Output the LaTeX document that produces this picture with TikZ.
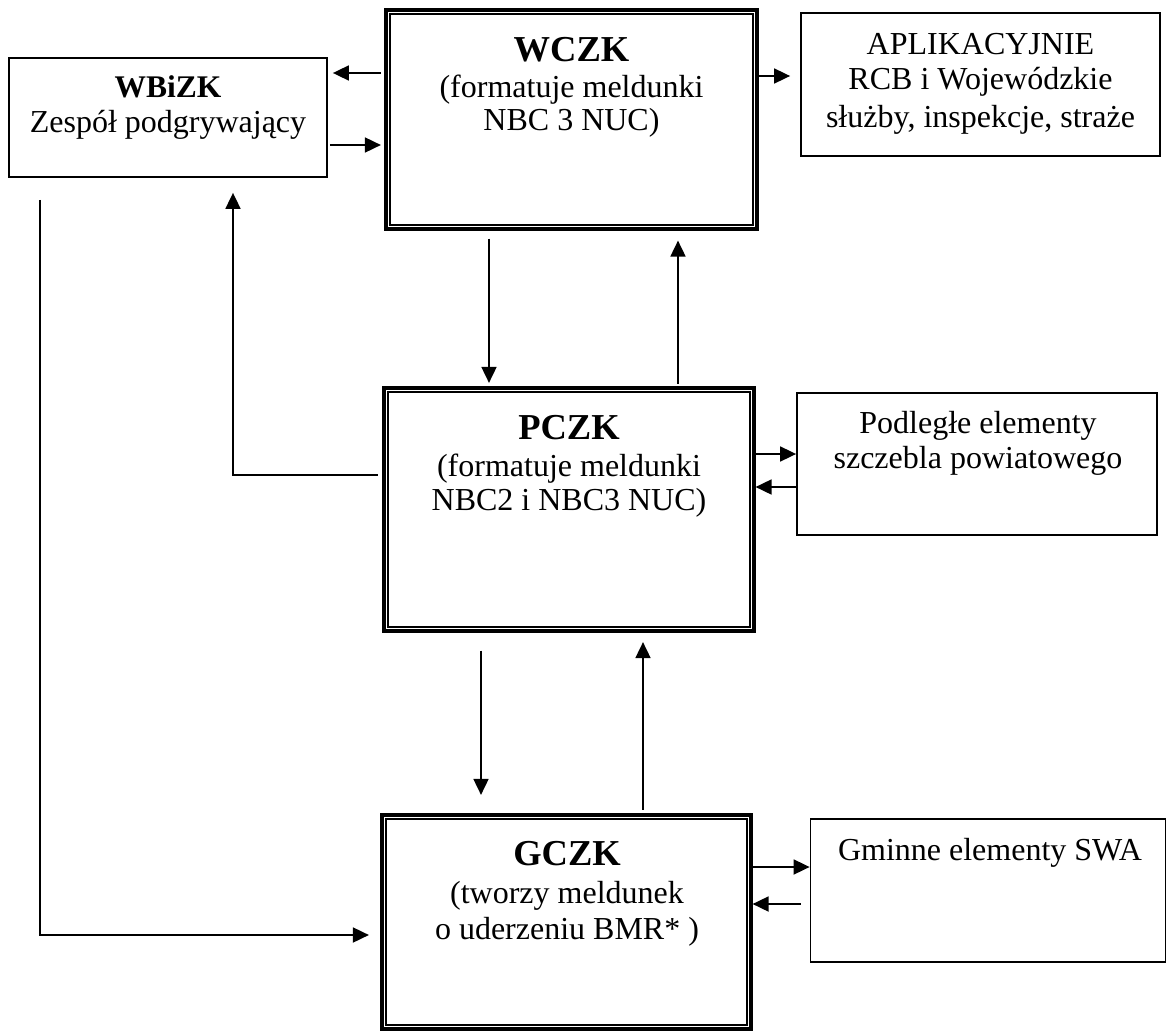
\documentclass[tikz,border=0pt]{standalone}
\usepackage{fontspec}
\setmainfont{Liberation Serif}
\usetikzlibrary{arrows.meta}
\begin{document}
\begin{tikzpicture}[x=1pt,y=-1pt,
  sbox/.style={draw, line width=1.8pt, inner sep=0pt},
  dbox/.style={draw, line width=3.2pt, inner sep=0pt},
  tx/.style={anchor=base, inner sep=0pt, font=\fontsize{32}{35}\selectfont},
  ttl/.style={anchor=base, inner sep=0pt, font=\fontsize{36.5}{40}\selectfont\bfseries},
  arr/.style={line width=1.8pt, -{Triangle[length=16pt,width=15pt]}}]
\useasboundingbox (0,0) rectangle (1168,1033);

% boxes
\node[sbox, minimum width=318pt, minimum height=119pt] (wbizk) at (168,117.5) {};
\node[dbox, minimum width=371pt, minimum height=219pt] (wczk) at (571.5,119.5) {};
\node[sbox, minimum width=359pt, minimum height=143pt] (aplik) at (980.5,84.5) {};
\node[dbox, minimum width=370pt, minimum height=243pt] (pczk) at (569,509.5) {};
\node[sbox, minimum width=360pt, minimum height=142pt] (podl) at (977,464) {};
\node[dbox, minimum width=369pt, minimum height=214pt] (gczk) at (566.5,922) {};
\node[sbox, minimum width=355pt, minimum height=143pt] (gmin) at (988,890.5) {};

% inner lines of double boxes
\foreach \b in {wczk,pczk,gczk}{
  \draw[line width=1.5pt] ([shift={(5.8,5.8)}]\b.north west) rectangle ([shift={(-5.8,-5.8)}]\b.south east);
}

% texts
\node[anchor=base, inner sep=0pt, font=\fontsize{31.5}{35}\selectfont\bfseries] (wbizkA) at (168,97) {WBiZK};
\node[tx] (wbizkB) at (168,132) {Zespół podgrywający};

\node[ttl] (wczkA) at (571.5,62) {WCZK};
\node[tx] (wczkB) at (571.5,97) {(formatuje meldunki};
\node[tx] (wczkC) at (571.5,130) {NBC 3 NUC)};

\node[tx] (aplikA) at (980.5,55) {APLIKACYJNIE};
\node[tx] (aplikB) at (980.5,90) {RCB i Wojewódzkie};
\node[tx] (aplikC) at (980.5,127) {służby, inspekcje, straże};

\node[ttl] (pczkA) at (569,439) {PCZK};
\node[tx] (pczkB) at (569,476) {(formatuje meldunki};
\node[tx] (pczkC) at (569,510) {NBC2 i NBC3 NUC)};

\node[tx] (podlA) at (978,433) {Podległe elementy};
\node[tx] (podlB) at (978,468) {szczebla powiatowego};

\node[ttl] (gczkA) at (567,865) {GCZK};
\node[tx] (gczkB) at (567,903) {(tworzy meldunek};
\node[tx] (gczkC) at (567,939) {o uderzeniu BMR* )};

\node[tx] (gminA) at (990,860) {Gminne elementy SWA};

% helper coordinates (levels / columns)
\coordinate (k73) at (0,73);
\coordinate (k145) at (0,145);
\coordinate (k76) at (0,76);
\coordinate (k489) at (489,0);
\coordinate (k678) at (678,0);
\coordinate (k1) at (233,475);
\coordinate (k454) at (0,454);
\coordinate (k487) at (0,487);
\coordinate (k481) at (481,0);
\coordinate (k643) at (643,0);
\coordinate (k2) at (40,935);
\coordinate (k867) at (0,867);
\coordinate (k904) at (0,904);

% connectors
\draw[arr, shorten <=3.5pt, shorten >=5pt] (wczk.west |- k73) -- (wbizk.east |- k73);
\draw[arr, shorten <=2pt, shorten >=3.5pt] (wbizk.east |- k145) -- (wczk.west |- k145);
\draw[arr, shorten >=10pt] (wczk.east |- k76) -- (aplik.west |- k76);
\draw[arr, shorten <=8pt, shorten >=3.5pt] (wczk.south -| k489) -- (pczk.north -| k489);
\draw[arr, shorten <=2.5pt, shorten >=10pt] (pczk.north -| k678) -- (wczk.south -| k678);
\draw[arr, shorten <=4.5pt, shorten >=15pt] (pczk.west |- k1) -| (wbizk.south -| k1);
\draw[arr] (pczk.east |- k454) -- (podl.west |- k454);
\draw[arr] (podl.west |- k487) -- (pczk.east |- k487);
\draw[arr, shorten <=18pt, shorten >=18.5pt] (pczk.south -| k481) -- (gczk.north -| k481);
\draw[arr, shorten <=3.5pt, shorten >=9.5pt] (gczk.north -| k643) -- (pczk.south -| k643);
\draw[arr, shorten <=22pt, shorten >=11.5pt] (wbizk.south -| k2) |- (gczk.west |- k2);
\draw[arr] (gczk.east |- k867) -- (gmin.west |- k867);
\draw[arr, shorten <=9pt] (gmin.west |- k904) -- (gczk.east |- k904);
\end{tikzpicture}
\end{document}
